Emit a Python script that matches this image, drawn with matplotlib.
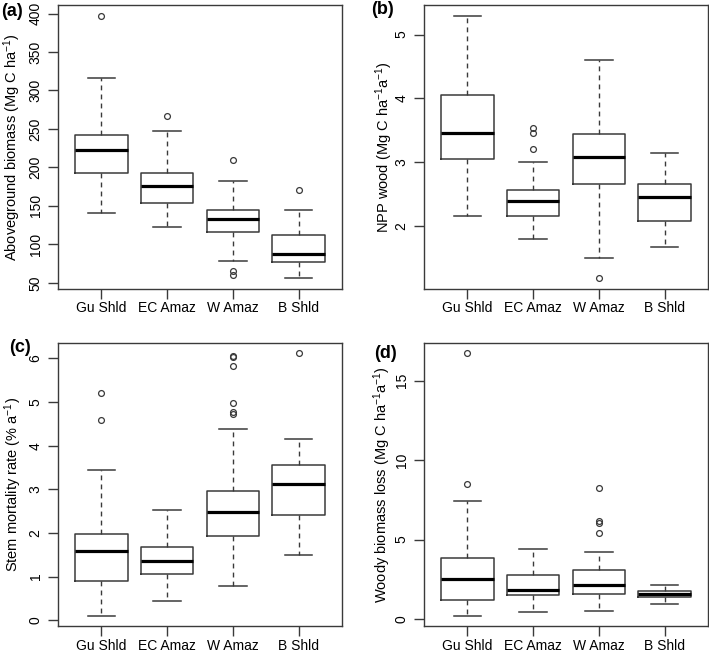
import matplotlib
matplotlib.use("Agg")
import matplotlib.pyplot as plt

plt.rcParams['font.family'] = ['Liberation Sans', 'DejaVu Sans']
plt.rcParams['mathtext.fontset'] = 'custom'
plt.rcParams['mathtext.rm'] = 'Liberation Sans'
plt.rcParams['mathtext.it'] = 'Liberation Sans:italic'
plt.rcParams['mathtext.default'] = 'regular'

regions = ['Gu Shld', 'EC Amaz', 'W Amaz', 'B Shld']

# (a) aboveground biomass
agb_low = [140.6, 122.8, 78.6, 55.7]
agb_q1 = [193.4, 154.4, 115.5, 76.5]
agb_med = [222.4, 176.5, 132.8, 86.9]
agb_q3 = [242.4, 193.4, 145.3, 112.0]
agb_high = [316.0, 247.6, 183.0, 144.5]
agb_out = [[397.4], [266.6], [209.9, 66.0, 60.0], [171.3]]

# (b) NPP wood
npp_low = [2.15, 1.785, 1.487, 1.67]
npp_q1 = [3.04, 2.157, 2.655, 2.08]
npp_med = [3.456, 2.39, 3.08, 2.455]
npp_q3 = [4.05, 2.555, 3.44, 2.655]
npp_high = [5.30, 2.995, 4.597, 3.147]
npp_out = [[], [3.53, 3.45, 3.20], [1.17], []]

# (c) stem mortality
mort_low = [0.11, 0.45, 0.79, 1.50]
mort_q1 = [0.91, 1.05, 1.94, 2.41]
mort_med = [1.58, 1.36, 2.49, 3.11]
mort_q3 = [1.985, 1.69, 2.97, 3.56]
mort_high = [3.45, 2.53, 4.38, 4.15]
mort_out = [[5.20, 4.59], [], [6.05, 6.02, 5.83, 4.98, 4.76, 4.73], [6.11]]

# (d) woody biomass loss
loss_low = [0.22, 0.42, 0.49, 0.95]
loss_q1 = [1.20, 1.50, 1.56, 1.37]
loss_med = [2.55, 1.83, 2.13, 1.57]
loss_q3 = [3.84, 2.78, 3.10, 1.76]
loss_high = [7.41, 4.41, 4.22, 2.15]
loss_out = [[16.72, 8.49], [], [8.24, 6.19, 6.03, 5.40], []]

panels = [
    ('(a)', 'Aboveground biomass (Mg C ha$^{-1}$)', agb_low, agb_q1, agb_med, agb_q3, agb_high, agb_out, [50, 100, 150, 200, 250, 300, 350, 400]),
    ('(b)', 'NPP wood (Mg C ha$^{-1}$a$^{-1}$)', npp_low, npp_q1, npp_med, npp_q3, npp_high, npp_out, [2, 3, 4, 5]),
    ('(c)', 'Stem mortality rate (% a$^{-1}$)', mort_low, mort_q1, mort_med, mort_q3, mort_high, mort_out, [0, 1, 2, 3, 4, 5, 6]),
    ('(d)', 'Woody biomass loss (Mg C ha$^{-1}$a$^{-1}$)', loss_low, loss_q1, loss_med, loss_q3, loss_high, loss_out, [0, 5, 10, 15]),
]

W, H = 709, 656
fig = plt.figure(figsize=(W / 100, H / 100), dpi=100)

# axes boxes in pixels: left, top, width, height
boxes = [(58, 5, 284, 284), (424, 5, 284, 284), (58, 343, 284, 283), (424, 343, 284, 283)]
label_pos = [(12, 11), (382, 10), (20, 348), (385, 354)]
ylab_off = [46, 40, 45, 42]
edge = '#3a3a3a'

for k, (tag, ylab, lo, q1, med, q3, hi, out, yt) in enumerate(panels):
    l, t, w, h = boxes[k]
    ax = fig.add_axes([l / W, 1 - (t + h) / H, w / W, h / H])
    stats = []
    for i in range(4):
        stats.append(dict(whislo=lo[i], q1=q1[i], med=med[i], q3=q3[i], whishi=hi[i], fliers=out[i]))
    ax.bxp(stats, positions=[1, 2, 3, 4], widths=0.8, capwidths=0.42,
           boxprops=dict(color=edge, lw=1.1),
           medianprops=dict(color='black', lw=2.3, solid_capstyle='butt'),
           whiskerprops=dict(color=edge, lw=1.0, linestyle=(0, (3.5, 3))),
           capprops=dict(color=edge, lw=1.1),
           flierprops=dict(marker='o', markerfacecolor='none', markeredgecolor=edge,
                           markersize=4.2, markeredgewidth=0.9))
    allv = lo + hi + [v for o in out for v in o]
    vmin, vmax = min(allv), max(allv)
    pad = 0.04 * (vmax - vmin)
    ax.set_ylim(vmin - pad, vmax + pad)
    ax.set_xlim(0.34, 4.66)
    ax.set_xticks([1, 2, 3, 4])
    ax.set_xticklabels(regions)
    ax.set_yticks(yt)
    ax.set_yticklabels([str(v) for v in yt])
    for lab in ax.get_yticklabels():
        lab.set_rotation(90)
        lab.set_va('center')
    for s in ax.spines.values():
        s.set_color(edge)
        s.set_linewidth(1.0)
    ax.tick_params(direction='out', length=7, width=1, color=edge, labelsize=10, pad=4)
    ax.tick_params(axis='x', pad=2)
    ax.set_ylabel(ylab, fontsize=10.5, va='center')
    ax.yaxis.set_label_coords(-ylab_off[k] / w, 0.5)
    fig.text(label_pos[k][0] / W, 1 - label_pos[k][1] / H, tag, fontsize=13,
             fontweight='bold', ha='center', va='center')

fig.savefig('out.png', dpi=100)
